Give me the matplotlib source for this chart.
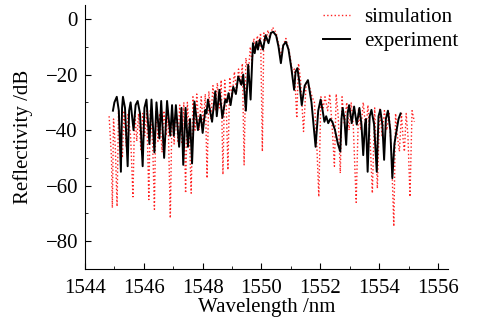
import matplotlib
matplotlib.use('Agg')
import matplotlib.pyplot as plt
import numpy as np

# Datos (longitud de onda en nm, reflectividad en dB)
sim_wl = [1544.82, 1544.90, 1544.93, 1544.97, 1545.03, 1545.09, 1545.14, 1545.20, 1545.27,
          1545.33, 1545.40, 1545.46, 1545.55, 1545.63, 1545.69, 1545.76, 1545.82, 1545.90,
          1545.96, 1546.03, 1546.10, 1546.17, 1546.22, 1546.30, 1546.36, 1546.41, 1546.48,
          1546.54, 1546.62, 1546.68, 1546.76, 1546.82, 1546.90, 1546.96, 1547.03, 1547.09,
          1547.16, 1547.22, 1547.30, 1547.36, 1547.42, 1547.48, 1547.55, 1547.61, 1547.67,
          1547.74, 1547.80, 1547.88, 1547.95, 1548.02, 1548.09, 1548.15, 1548.21, 1548.28,
          1548.35, 1548.43, 1548.50, 1548.57, 1548.63, 1548.69, 1548.75, 1548.80, 1548.86,
          1548.92, 1549.00, 1549.08, 1549.15, 1549.22, 1549.29, 1549.35, 1549.41, 1549.47,
          1549.55, 1549.62, 1549.68, 1549.74, 1549.80, 1549.86, 1549.92, 1549.97, 1550.03,
          1550.08, 1550.15, 1550.22, 1550.28, 1550.38, 1550.50, 1550.60, 1550.66, 1550.72,
          1550.83, 1550.95, 1551.05, 1551.12, 1551.20, 1551.26, 1551.33, 1551.43, 1551.52,
          1551.62, 1551.72, 1551.80, 1551.88, 1551.95, 1552.02, 1552.10, 1552.16, 1552.25,
          1552.32, 1552.40, 1552.48, 1552.54, 1552.61, 1552.68, 1552.74, 1552.82, 1552.90,
          1552.98, 1553.05, 1553.12, 1553.22, 1553.30, 1553.38, 1553.46, 1553.55, 1553.62,
          1553.70, 1553.77, 1553.85, 1553.94, 1554.02, 1554.10, 1554.18, 1554.26, 1554.34,
          1554.42, 1554.50, 1554.56, 1554.62, 1554.69, 1554.76, 1554.82, 1554.86, 1554.92,
          1554.98, 1555.05, 1555.12, 1555.20]
sim_db = [-35, -50, -68, -36, -46, -67.5, -33, -44, -50,
          -33, -46, -34, -42, -64, -33, -44, -34, -47,
          -34, -42, -33, -65, -33, -45, -68.5, -33, -44,
          -34, -48, -33, -42, -33, -71.7, -32, -45, -32,
          -44, -31, -45, -30, -62.7, -30, -42, -62.7, -28,
          -40, -27, -40, -28, -38, -27, -57.3, -26, -36,
          -24, -33, -23, -32, -22, -56, -22, -30, -54.3,
          -21, -28, -19, -26, -18, -24, -16, -52.5, -14,
          -20, -10, -16, -7, -11, -6, -10, -5, -47.7,
          -5, -8, -4, -7, -3, -5, -10, -14, -10,
          -7, -12, -19, -18, -35.7, -16, -22, -40.5, -23,
          -24, -28, -30, -45, -64, -28, -32, -28, -33,
          -27, -38, -53, -27, -35, -55.5, -28, -38, -30,
          -40, -30, -38, -66, -32, -40, -30, -40, -31,
          -45, -62.7, -32, -61, -32, -42, -33, -40, -34,
          -48, -74.7, -34, -42, -47.7, -34, -44, -47.7, -34,
          -42, -64, -33, -37]

exp_wl = [1544.95, 1545.00, 1545.08, 1545.15, 1545.22, 1545.26, 1545.29, 1545.36, 1545.45,
          1545.50, 1545.55, 1545.65, 1545.72, 1545.79, 1545.87, 1545.96, 1546.02, 1546.09,
          1546.19, 1546.26, 1546.36, 1546.43, 1546.53, 1546.59, 1546.69, 1546.79, 1546.90,
          1546.96, 1547.02, 1547.09, 1547.20, 1547.28, 1547.34, 1547.42, 1547.50, 1547.57,
          1547.64, 1547.72, 1547.84, 1547.93, 1548.00, 1548.09, 1548.13, 1548.18, 1548.32,
          1548.43, 1548.48, 1548.57, 1548.67, 1548.77, 1548.82, 1548.88, 1548.95, 1549.04,
          1549.13, 1549.21, 1549.32, 1549.38, 1549.47, 1549.55, 1549.63, 1549.71, 1549.77,
          1549.83, 1549.88, 1549.94, 1550.05, 1550.14, 1550.24, 1550.32, 1550.40, 1550.50,
          1550.58, 1550.66, 1550.74, 1550.83, 1550.92, 1551.02, 1551.11, 1551.16, 1551.22,
          1551.28, 1551.37, 1551.47, 1551.58, 1551.70, 1551.84, 1551.93, 1552.01, 1552.08,
          1552.14, 1552.20, 1552.27, 1552.34, 1552.41, 1552.50, 1552.60, 1552.68, 1552.72,
          1552.76, 1552.82, 1552.88, 1552.93, 1552.98, 1553.07, 1553.15, 1553.24, 1553.33,
          1553.40, 1553.46, 1553.52, 1553.55, 1553.61, 1553.68, 1553.74, 1553.83, 1553.92,
          1553.98, 1554.04, 1554.11, 1554.17, 1554.23, 1554.30, 1554.38, 1554.45, 1554.52,
          1554.58, 1554.66, 1554.73]
exp_db = [-33, -30, -28, -33, -55, -32, -28, -32, -53,
          -33, -30, -40, -31, -29.5, -34, -53, -32, -29,
          -45, -29, -48, -30, -43, -29.5, -50, -29.5, -42,
          -31, -42, -31, -46, -32, -52.5, -32, -46, -36,
          -52, -29.7, -40, -34.5, -41, -32.7, -34, -29, -37,
          -26, -35, -25.5, -35.6, -29, -30, -26.7, -31, -24.4,
          -27, -20.7, -23.7, -20, -33, -16.5, -29, -8.7, -12.3,
          -8.2, -11, -7.5, -11, -5.8, -8.7, -5, -4.6, -6,
          -10, -15.9, -9.5, -8.2, -11, -18, -25.5, -19, -17.7,
          -22, -31, -24, -22, -30, -46, -33, -29, -33,
          -37, -35, -37.5, -36, -37, -40, -45, -47.7, -36,
          -32, -36, -45.3, -34, -31, -37.5, -31.5, -38, -32,
          -38, -49, -38, -36, -55, -35, -32.7, -38, -55,
          -35, -32.7, -38, -50.7, -36, -33, -40, -57.3, -45,
          -41, -36, -34]

plt.rcParams['font.family'] = ['Liberation Serif', 'DejaVu Serif']
plt.rcParams['font.size'] = 15

fig = plt.figure(figsize=(4.83, 3.21), dpi=100)
ax = fig.add_axes([0.176, 0.162, 0.752, 0.822])

ax.plot(sim_wl, sim_db, color='#ff2020', linestyle=':', linewidth=1.0, label='simulation')
ax.plot(exp_wl, exp_db, color='black', linestyle='-', linewidth=1.4, label='experiment')

ax.set_xlim(1544.15, 1556.35)
ax.set_ylim(-90, 5)
ax.set_xticks(np.arange(1544, 1557, 2))
ax.set_xticks(np.arange(1545, 1556, 2), minor=True)
ax.set_yticks(np.arange(-80, 1, 20))
ax.set_yticks(np.arange(-90, 1, 20), minor=True)
ax.set_yticklabels(['\u221280', '\u221260', '\u221240', '\u221220', '0'])
ax.tick_params(which='both', direction='in')
ax.tick_params(axis='x', which='both', pad=7)
ax.tick_params(axis='y', which='both', pad=5)
ax.tick_params(which='major', length=4)
ax.tick_params(which='minor', length=2.5)

ax.set_xlabel('Wavelength /nm', labelpad=0)
ax.set_ylabel('Reflectivity /dB', labelpad=9)

ax.spines['top'].set_visible(False)
ax.spines['right'].set_visible(False)

ax.legend(loc='upper left', frameon=False, handlelength=1.3, handletextpad=0.7,
          labelspacing=0.2, borderaxespad=0.0, borderpad=0.0,
          bbox_to_anchor=(0.655, 0.99))

fig.savefig('out.png', dpi=100)
